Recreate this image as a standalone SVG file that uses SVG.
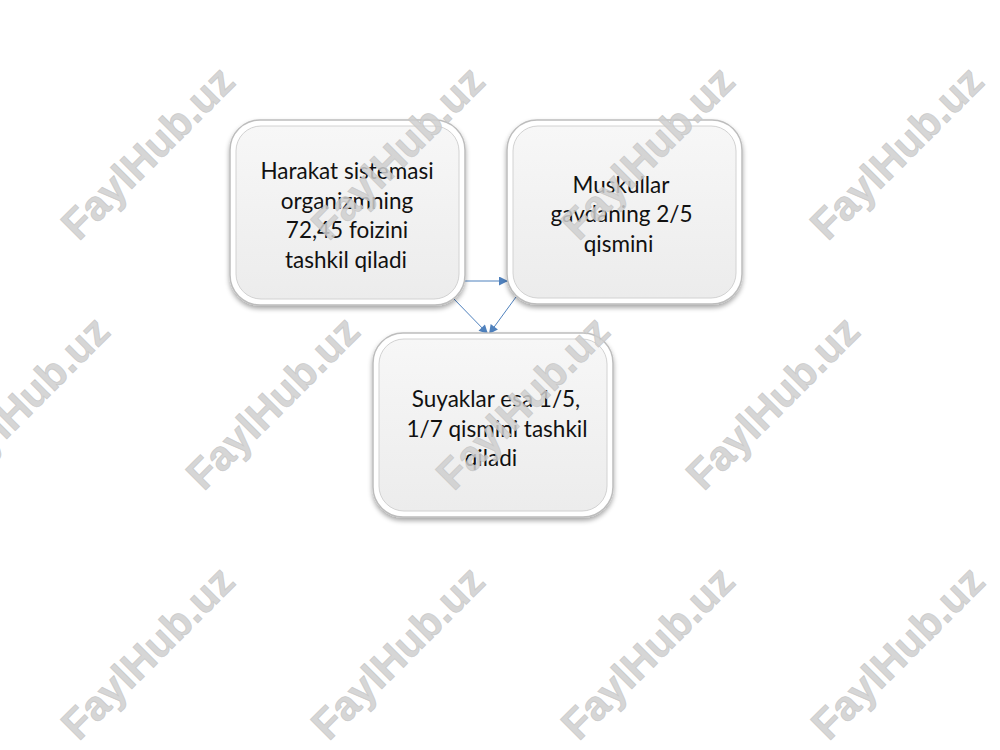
<svg xmlns="http://www.w3.org/2000/svg" width="1000" height="750" viewBox="0 0 1000 750">
<defs>
<linearGradient id="fillg" x1="0" y1="0" x2="0" y2="1">
<stop offset="0" stop-color="#f7f7f7"/>
<stop offset="1" stop-color="#ececec"/>
</linearGradient>
<filter id="sh" x="-10%" y="-10%" width="120%" height="125%">
<feGaussianBlur in="SourceAlpha" stdDeviation="2.5"/>
<feOffset dx="0" dy="3" result="b"/>
<feComponentTransfer><feFuncA type="linear" slope="0.35"/></feComponentTransfer>
<feMerge><feMergeNode/><feMergeNode in="SourceGraphic"/></feMerge>
</filter>
<marker id="ah" viewBox="0 0 10 10" refX="10" refY="5" markerWidth="10" markerHeight="9" markerUnits="userSpaceOnUse" orient="auto">
<path d="M0,0 L10,5 L0,10 z" fill="#4f81bd"/>
</marker>
</defs>
<style>
.wm{font-family:"Liberation Sans",Arial,sans-serif;font-weight:bold;font-size:42px;fill:#cfcfcf;fill-opacity:0.85;stroke:#c4c4c4;stroke-opacity:0.8;stroke-width:0.8}
.outer{fill:#ffffff;stroke:#bdbdbd;stroke-width:1.5}
.inner{fill:url(#fillg);stroke:#d2d2d2;stroke-width:1}
.lbl{font-family:Lato,"Liberation Sans",sans-serif;font-size:22.5px;fill:#111111;text-anchor:middle}
.conn{stroke:#4f81bd;stroke-width:1;fill:none}
</style>
<rect width="1000" height="750" fill="#ffffff"/>
<g id="connectors">
<line class="conn" x1="464" y1="281" x2="508" y2="281" marker-end="url(#ah)"/>
<line class="conn" x1="453" y1="298" x2="488" y2="334" marker-end="url(#ah)"/>
<line class="conn" x1="516" y1="297" x2="489" y2="334" marker-end="url(#ah)"/>
</g>
<g id="node1">
<rect class="outer" x="230" y="120" width="235" height="185" rx="30" filter="url(#sh)"/>
<rect class="inner" x="236" y="126" width="223" height="173" rx="25"/>
<text class="lbl" x="347" y="179">Harakat sistemasi</text>
<text class="lbl" x="347" y="208.5">organizmning</text>
<text class="lbl" x="347" y="238">72,45 foizini</text>
<text class="lbl" x="346" y="267.5">tashkil qiladi</text>
</g>
<g id="node2">
<rect class="outer" x="507" y="120" width="235" height="184" rx="30" filter="url(#sh)"/>
<rect class="inner" x="513" y="126" width="223" height="172" rx="25"/>
<text class="lbl" x="621" y="193">Muskullar</text>
<text class="lbl" x="621.5" y="222">gavdaning 2/5</text>
<text class="lbl" x="618.5" y="251.5">qismini</text>
</g>
<g id="node3">
<rect class="outer" x="373" y="333" width="240" height="184" rx="30" filter="url(#sh)"/>
<rect class="inner" x="379" y="339" width="228" height="172" rx="25"/>
<text class="lbl" x="496" y="407">Suyaklar esa 1/5,</text>
<text class="lbl" x="497" y="436.5">1/7 qismini tashkil</text>
<text class="lbl" x="491" y="465.5">qiladi</text>
</g>
<g id="watermarks">
<text class="wm" x="0" y="14" text-anchor="middle" textLength="224" lengthAdjust="spacingAndGlyphs" transform="translate(148,153) rotate(-45)">FaylHub.uz</text>
<text class="wm" x="0" y="14" text-anchor="middle" textLength="224" lengthAdjust="spacingAndGlyphs" transform="translate(398,153) rotate(-45)">FaylHub.uz</text>
<text class="wm" x="0" y="14" text-anchor="middle" textLength="224" lengthAdjust="spacingAndGlyphs" transform="translate(648,153) rotate(-45)">FaylHub.uz</text>
<text class="wm" x="0" y="14" text-anchor="middle" textLength="224" lengthAdjust="spacingAndGlyphs" transform="translate(897,153) rotate(-45)">FaylHub.uz</text>
<text class="wm" x="0" y="14" text-anchor="middle" textLength="224" lengthAdjust="spacingAndGlyphs" transform="translate(23,403) rotate(-45)">FaylHub.uz</text>
<text class="wm" x="0" y="14" text-anchor="middle" textLength="224" lengthAdjust="spacingAndGlyphs" transform="translate(273,403) rotate(-45)">FaylHub.uz</text>
<text class="wm" x="0" y="14" text-anchor="middle" textLength="224" lengthAdjust="spacingAndGlyphs" transform="translate(523,403) rotate(-45)">FaylHub.uz</text>
<text class="wm" x="0" y="14" text-anchor="middle" textLength="224" lengthAdjust="spacingAndGlyphs" transform="translate(773,403) rotate(-45)">FaylHub.uz</text>
<text class="wm" x="0" y="14" text-anchor="middle" textLength="224" lengthAdjust="spacingAndGlyphs" transform="translate(148,653) rotate(-45)">FaylHub.uz</text>
<text class="wm" x="0" y="14" text-anchor="middle" textLength="224" lengthAdjust="spacingAndGlyphs" transform="translate(398,653) rotate(-45)">FaylHub.uz</text>
<text class="wm" x="0" y="14" text-anchor="middle" textLength="224" lengthAdjust="spacingAndGlyphs" transform="translate(648,653) rotate(-45)">FaylHub.uz</text>
<text class="wm" x="0" y="14" text-anchor="middle" textLength="224" lengthAdjust="spacingAndGlyphs" transform="translate(898,653) rotate(-45)">FaylHub.uz</text>
</g>
</svg>
